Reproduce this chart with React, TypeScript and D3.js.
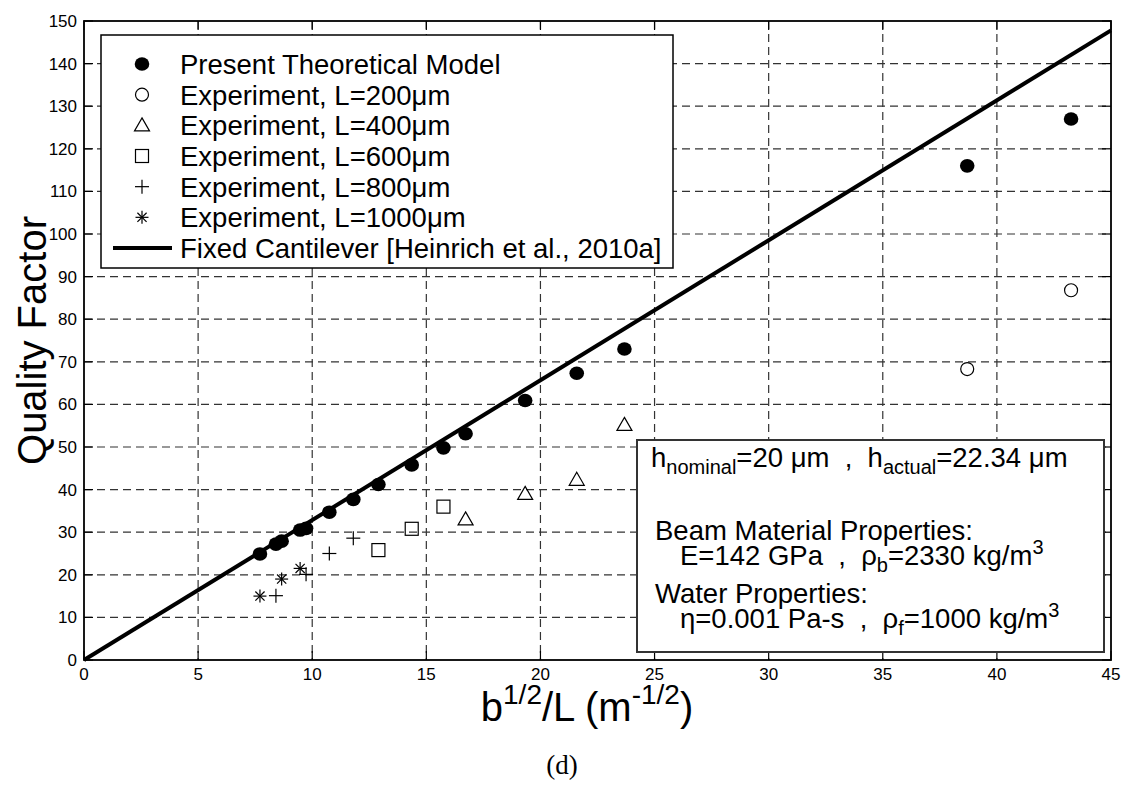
import React, { useEffect } from 'react';
import * as d3 from 'd3';

// axis ticks
const xTicks = [0, 5, 10, 15, 20, 25, 30, 35, 40, 45];
const yTicks = [0, 10, 20, 30, 40, 50, 60, 70, 80, 90, 100, 110, 120, 130, 140, 150];

// Present theoretical model (filled circles)
const modelX = [7.71, 8.41, 8.66, 9.47, 9.73, 10.75, 11.8, 12.9, 14.36, 15.75, 16.72, 19.33, 21.59, 23.68, 38.7, 43.25];
const modelY = [24.9, 27.2, 27.9, 30.5, 30.9, 34.7, 37.7, 41.2, 45.8, 49.8, 53.1, 60.9, 67.3, 73.0, 116.0, 127.0];

// experiments
const l200X = [38.7, 43.25];
const l200Y = [68.3, 86.8];
const l400X = [16.72, 19.33, 21.59, 23.68];
const l400Y = [33.0, 39.0, 42.3, 55.2];
const l600X = [12.9, 14.36, 15.75];
const l600Y = [25.8, 30.8, 36.0];
const l800X = [8.41, 9.73, 10.75, 11.8];
const l800Y = [15.1, 20.1, 25.0, 28.6];
const l1000X = [7.71, 8.66, 9.47];
const l1000Y = [15.0, 19.0, 21.5];

// fixed cantilever reference line
const fixedX = [0, 45];
const fixedY = [0, 147.8];

const legendLabels = [
  'Present Theoretical Model',
  'Experiment, L=200\u03bcm',
  'Experiment, L=400\u03bcm',
  'Experiment, L=600\u03bcm',
  'Experiment, L=800\u03bcm',
  'Experiment, L=1000\u03bcm',
  'Fixed Cantilever [Heinrich et al., 2010a]',
];
const legendKinds = ['dot', 'circle', 'triangle', 'square', 'plus', 'star', 'line'];

const FONT = '"Liberation Sans", Arial, Helvetica, sans-serif';
const SP = '\u00a0';

const W = 1125;
const H = 787;
const left = 84, right = 1111, top = 21, bottom = 660;

function marker(kind: string, cx: number, cy: number, key: string) {
  const sw = 1.2;
  switch (kind) {
    case 'dot':
      return <ellipse key={key} cx={cx} cy={cy} rx={7.3} ry={6.8} fill="#000" />;
    case 'circle':
      return <circle key={key} cx={cx} cy={cy} r={6.5} fill="none" stroke="#000" strokeWidth={sw} />;
    case 'triangle':
      return <path key={key} d={`M${cx},${cy - 7.5}L${cx + 7.5},${cy + 5.5}L${cx - 7.5},${cy + 5.5}Z`} fill="none" stroke="#000" strokeWidth={sw} />;
    case 'square':
      return <rect key={key} x={cx - 6.5} y={cy - 6.5} width={13} height={13} fill="none" stroke="#000" strokeWidth={sw} />;
    case 'plus':
      return (
        <g key={key} stroke="#000" strokeWidth={sw}>
          <line x1={cx - 7} x2={cx + 7} y1={cy} y2={cy} />
          <line x1={cx} x2={cx} y1={cy - 7} y2={cy + 7} />
        </g>
      );
    case 'star':
      return (
        <g key={key} stroke="#000" strokeWidth={sw}>
          <line x1={cx - 6.5} x2={cx + 6.5} y1={cy} y2={cy} />
          <line x1={cx} x2={cx} y1={cy - 6.5} y2={cy + 6.5} />
          <line x1={cx - 4.6} x2={cx + 4.6} y1={cy - 4.6} y2={cy + 4.6} />
          <line x1={cx - 4.6} x2={cx + 4.6} y1={cy + 4.6} y2={cy - 4.6} />
        </g>
      );
    default:
      return null;
  }
}

const App: React.FC = () => {
  useEffect(() => {
    document.body.style.margin = '0';
  }, []);

  const x = d3.scaleLinear().domain([0, 45]).range([left, right]);
  const y = d3.scaleLinear().domain([0, 150]).range([bottom, top]);

  const fixedLine = d3.line<number>()
    .x((d) => x(d))
    .y((d, i) => y(fixedY[i]))(fixedX);

  const series: { kind: string; xs: number[]; ys: number[] }[] = [
    { kind: 'dot', xs: modelX, ys: modelY },
    { kind: 'circle', xs: l200X, ys: l200Y },
    { kind: 'triangle', xs: l400X, ys: l400Y },
    { kind: 'square', xs: l600X, ys: l600Y },
    { kind: 'plus', xs: l800X, ys: l800Y },
    { kind: 'star', xs: l1000X, ys: l1000Y },
  ];

  const tickLen = 9;
  const legRow = d3.scaleLinear().domain([0, 6]).range([64, 248]);

  return (
    <svg width={W} height={H} style={{ display: 'block', background: '#fff' }} fontFamily={FONT}>
      <rect width={W} height={H} fill="#fff" />

      {/* grid */}
      <g stroke="#333" strokeWidth={1.2} strokeDasharray="8,5">
        {xTicks.slice(1, -1).map((t) => (
          <line key={'gx' + t} x1={x(t)} x2={x(t)} y1={top} y2={bottom} />
        ))}
        {yTicks.slice(1, -1).map((t) => (
          <line key={'gy' + t} x1={left} x2={right} y1={y(t)} y2={y(t)} />
        ))}
      </g>

      {/* fixed cantilever line */}
      <path d={fixedLine || ''} fill="none" stroke="#000" strokeWidth={4} />

      {/* markers */}
      {series.map((s) =>
        s.xs.map((v, i) => marker(s.kind, x(v), y(s.ys[i]), s.kind + i))
      )}

      {/* axes box and ticks */}
      <rect x={left} y={top} width={right - left} height={bottom - top} fill="none" stroke="#000" strokeWidth={1.8} />
      <g stroke="#000" strokeWidth={1.2}>
        {xTicks.map((t) => (
          <g key={'tx' + t}>
            <line x1={x(t)} x2={x(t)} y1={bottom} y2={bottom - tickLen} />
            <line x1={x(t)} x2={x(t)} y1={top} y2={top + tickLen} />
          </g>
        ))}
        {yTicks.map((t) => (
          <g key={'ty' + t}>
            <line x1={left} x2={left + tickLen} y1={y(t)} y2={y(t)} />
            <line x1={right} x2={right - tickLen} y1={y(t)} y2={y(t)} />
          </g>
        ))}
      </g>
      <g fontSize={17} fill="#000">
        {xTicks.map((t) => (
          <text key={'lx' + t} x={x(t)} y={680} textAnchor="middle">{t}</text>
        ))}
        {yTicks.map((t) => (
          <text key={'ly' + t} x={77} y={y(t)} dy="0.35em" textAnchor="end">{t}</text>
        ))}
      </g>

      {/* axis labels */}
      <text x={0} y={0} transform={`translate(46,${(top + bottom) / 2}) rotate(-90)`} textAnchor="middle" fontSize={40}>
        Quality Factor
      </text>
      <text x={587} y={721} textAnchor="middle" fontSize={40}>
        b<tspan fontSize={28} dy={-17}>1/2</tspan><tspan dy={17}>/L (m</tspan>
        <tspan fontSize={28} dy={-17}>-1/2</tspan><tspan dy={17}>)</tspan>
      </text>
      <text x={562} y={774} textAnchor="middle" fontSize={27} fontFamily='"Liberation Serif", "Times New Roman", serif'>
        (d)
      </text>

      {/* legend */}
      <rect x={101} y={35} width={572} height={233} fill="#fff" stroke="#000" strokeWidth={1.5} />
      {legendLabels.map((lab, i) => (
        <g key={'leg' + i}>
          {legendKinds[i] === 'line'
            ? <line x1={113} x2={172} y1={legRow(i)} y2={legRow(i)} stroke="#000" strokeWidth={4} />
            : marker(legendKinds[i], 142, legRow(i), 'lm' + i)}
          <text x={180} y={legRow(i)} dy="0.36em" fontSize={27.5}>{lab}</text>
        </g>
      ))}

      {/* annotation box */}
      <rect x={637} y={440} width={467} height={212} fill="#fff" stroke="#333" strokeWidth={2} />
      <g fontSize={27.5}>
        <text x={651} y={467}>
          h<tspan fontSize={20} dy={7}>nominal</tspan>
          <tspan dy={-7}>{`=20${SP}\u03bcm${SP}${SP},${SP}${SP}h`}</tspan>
          <tspan fontSize={20} dy={7}>actual</tspan>
          <tspan dy={-7}>{`=22.34${SP}\u03bcm`}</tspan>
        </text>
        <text x={655} y={540}>Beam Material Properties:</text>
        <text x={680} y={565}>
          {`E=142${SP}GPa${SP}${SP},${SP}${SP}\u03c1`}
          <tspan fontSize={20} dy={7}>b</tspan>
          <tspan dy={-7}>=2330 kg/m</tspan>
          <tspan fontSize={20} dy={-11}>3</tspan>
        </text>
        <text x={655} y={603}>Water Properties:</text>
        <text x={680} y={628}>
          {`\u03b7=0.001${SP}Pa-s${SP}${SP},${SP}${SP}\u03c1`}
          <tspan fontSize={20} dy={7}>f</tspan>
          <tspan dy={-7}>=1000 kg/m</tspan>
          <tspan fontSize={20} dy={-11}>3</tspan>
        </text>
      </g>
    </svg>
  );
};

export default App;
